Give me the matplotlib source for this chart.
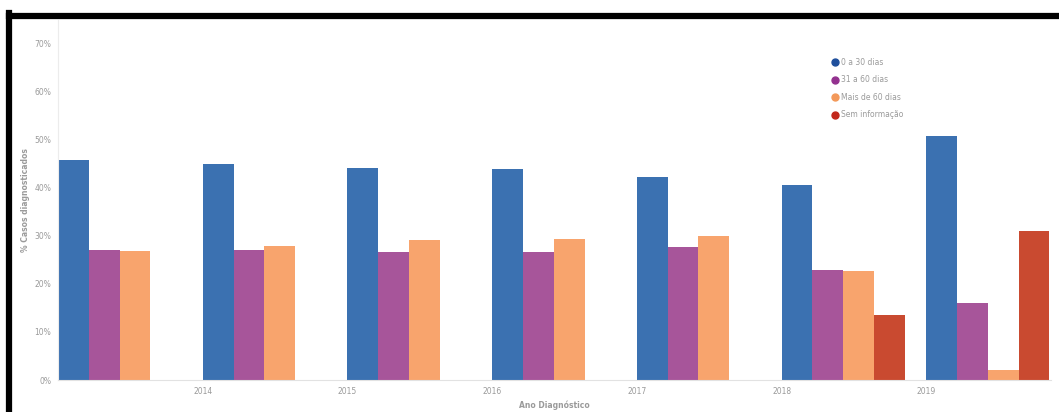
import matplotlib.pyplot as plt
from matplotlib.lines import Line2D
import numpy as np

# data (% of diagnosed cases)
years = [2013, 2014, 2015, 2016, 2017, 2018, 2019]
tick_years = [2014, 2015, 2016, 2017, 2018, 2019]
dias_0_30 = [45.7, 44.9, 44.0, 43.9, 42.2, 40.6, 50.8]
dias_31_60 = [27.0, 27.0, 26.6, 26.5, 27.7, 22.8, 16.0]
mais_60 = [26.8, 27.9, 29.1, 29.4, 29.9, 22.7, 2.0]
sem_info = [0, 0, 0, 0, 0, 13.5, 31.0]

series = [dias_0_30, dias_31_60, mais_60, sem_info]
labels = ['0 a 30 dias', '31 a 60 dias', 'Mais de 60 dias', 'Sem informação']
colors = ['#3b71b1', '#a7559a', '#f8a46d', '#c94a30']
legend_colors = ['#1f4f9c', '#93318f', '#f3995a', '#c2281c']

W, H = 1059, 412
fig = plt.figure(figsize=(W / 100, H / 100), dpi=100)
ax = fig.add_axes([58 / W, 1 - 380 / H, (1051 - 58) / W, (380 - 20) / H])

bar_w = 0.2125
x = np.array(years, dtype=float)
for i, vals in enumerate(series):
    ax.bar(x + i * bar_w, vals, width=bar_w, align='edge', color=colors[i],
           label=labels[i], linewidth=0)

ax.set_xlim(2013, 2013 + (1051 - 58.3) / 144.7)
ax.set_ylim(0, 74.8)

grey = '#9a9a9a'
ax.set_yticks(range(0, 71, 10))
ax.set_yticklabels([str(v) + '%' for v in range(0, 71, 10)], fontsize=5.5, color=grey)
ax.set_xticks(tick_years)
ax.set_xticklabels([str(y) for y in tick_years], fontsize=5.5, color=grey)
ax.tick_params(length=0, pad=5)

for s in ['top', 'right']:
    ax.spines[s].set_visible(False)
ax.spines['left'].set_color('#ececec')
ax.spines['bottom'].set_color('#e2e2e2')

ax.set_xlabel('Ano Diagnóstico', fontsize=5.5, color=grey, fontweight='bold', labelpad=3)
ax.set_ylabel('% Casos diagnosticados', fontsize=5.5, color=grey, fontweight='bold', labelpad=3)

# legend with round markers
handles = [Line2D([0], [0], marker='o', linestyle='', markersize=5,
                  markerfacecolor=c, markeredgecolor=c) for c in legend_colors]
ax.legend(handles, labels, loc='upper left', bbox_to_anchor=(0.775, 0.905),
          frameon=False, fontsize=5.5, labelcolor=grey, handletextpad=0.25,
          handlelength=1.0, labelspacing=1.1, borderpad=0)

# thick black frame from the screenshot
fig.add_artist(Line2D([9 / W, 1.01], [1 - 16 / H, 1 - 16 / H], color='black',
                      linewidth=4.5, transform=fig.transFigure))
fig.add_artist(Line2D([9 / W, 9 / W], [1 - 13 / H, -0.01], color='black',
                      linewidth=4.5, transform=fig.transFigure))

fig.savefig('out.png', dpi=100)
